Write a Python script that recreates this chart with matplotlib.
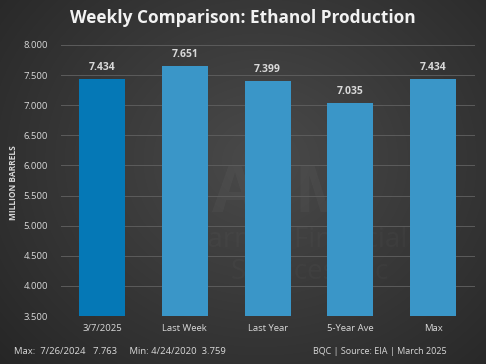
import numpy as np
import matplotlib
matplotlib.use("Agg")
import matplotlib.pyplot as plt

categories = ["3/7/2025", "Last Week", "Last Year", "5-Year Ave", "Max"]
values = [7.434, 7.651, 7.399, 7.035, 7.434]
yticks = [3.5, 4.0, 4.5, 5.0, 5.5, 6.0, 6.5, 7.0, 7.5, 8.0]
title = "Weekly Comparison: Ethanol Production"
ylabel = "MILLION BARRELS"
footer_left = "Max:  7/26/2024   7.763     Min: 4/24/2020  3.759"
footer_right = "BQC | Source: EIA | March 2025"

plt.rcParams['font.family'] = ['Open Sans', 'DejaVu Sans']

fig = plt.figure(figsize=(4.86, 3.64), dpi=100)

# background radial gradient
bg = fig.add_axes([0, 0, 1, 1])
yy, xx = np.mgrid[0:364, 0:486]
r = np.sqrt(((xx - 260) / 300.0) ** 2 + ((yy - 160) / 260.0) ** 2)
v = np.clip(0.29 - 0.12 * r, 0.15, 0.3)
img = np.dstack([v, v, v])
bg.imshow(img, aspect='auto', extent=[0, 1, 0, 1])
bg.set_axis_off()

# faint watermark
bg.text(285 / 486, 1 - 195 / 364, "AFM", ha='center', va='center', color="#ffffff",
        alpha=0.03, fontsize=48, fontweight='bold', transform=bg.transAxes)
bg.text(300 / 486, 1 - 240 / 364, "Farmer Financial", ha='center', va='center',
        color="#ffffff", alpha=0.025, fontsize=20, transform=bg.transAxes)
bg.text(310 / 486, 1 - 272 / 364, "Services, Inc", ha='center', va='center',
        color="#ffffff", alpha=0.025, fontsize=20, transform=bg.transAxes)

ax = fig.add_axes([60.6 / 486, 1 - 316 / 364, (474.6 - 60.6) / 486, (316 - 45) / 364])
ax.patch.set_alpha(0)
x = np.arange(len(categories))
colors = ["#0578B6"] + ["#3A96C8"] * 4
ax.bar(x, values, width=0.556, color=colors, zorder=3)
ax.set_ylim(3.5, 8.0)
ax.set_xlim(-0.5, len(categories) - 0.5)
ax.set_yticks(yticks)
ax.set_yticklabels([f"{t:.3f}" for t in yticks], color="#d9d9d9", fontsize=6.8)
ax.set_xticks(x)
ax.set_xticklabels(categories, color="#d9d9d9", fontsize=6.8)
ax.tick_params(axis='both', length=0, pad=9)
ax.tick_params(axis='x', pad=6)
ax.grid(axis='y', color="#5c5c5c", linewidth=0.7, zorder=0)
for s in ax.spines.values():
    s.set_visible(False)
for xi, val in zip(x, values):
    ax.text(xi, val + 0.1, f"{val:.3f}", ha='center', va='bottom',
            color="#d9d9d9", fontsize=7.5, fontweight='bold')

fig.text(14 / 486, 1 - 183 / 364, ylabel, rotation=90, ha='center', va='center',
         color="#d9d9d9", fontsize=6, fontweight='bold')
fig.text(243 / 486, 1 - 18 / 364, title, ha='center', va='center',
         color="#f2f2f2", fontsize=12.4, fontweight='bold')
fig.text(14 / 486, 1 - 352 / 364, footer_left, ha='left', va='center',
         color="#d9d9d9", fontsize=6.8)
fig.text(447 / 486, 1 - 351 / 364, footer_right, ha='right', va='center',
         color="#d9d9d9", fontsize=6.5)

fig.savefig("out.png", dpi=100)
